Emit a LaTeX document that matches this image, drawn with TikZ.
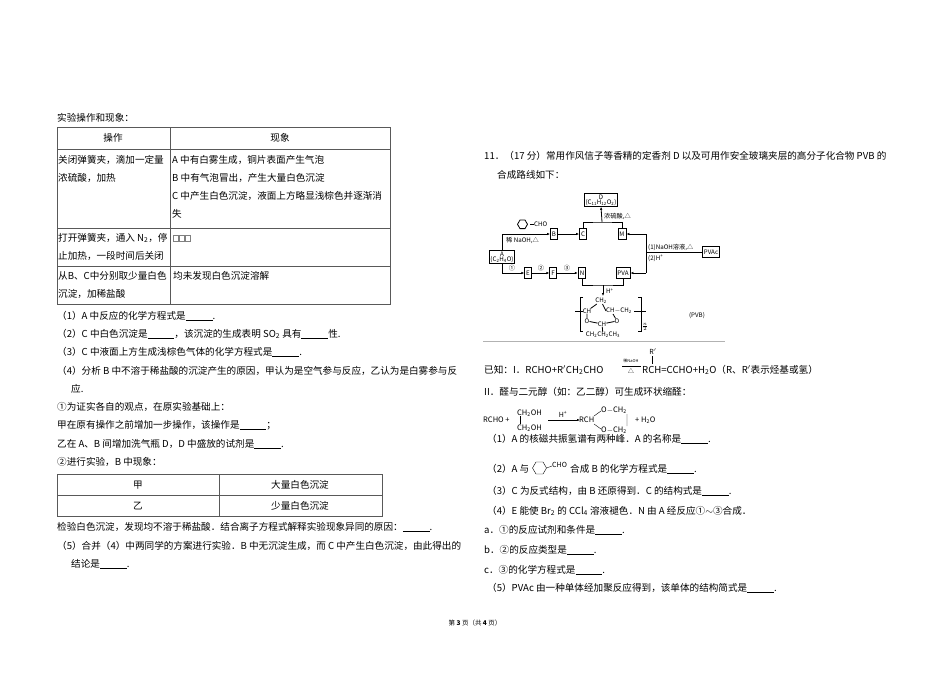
\documentclass[tikz,border=0pt]{standalone}
\usepackage{fontspec}
\setmainfont{Noto Sans CJK SC}
\usetikzlibrary{arrows.meta}
\newcommand{\blank}{\underline{\hspace{2.8em}}}
\begin{document}
\begin{tikzpicture}[x=1pt,y=-1pt,
  t/.style={anchor=west,inner sep=0pt,font=\fontsize{9.6}{11}\selectfont},
  tc/.style={inner sep=0pt,font=\fontsize{9.6}{11}\selectfont},
  d/.style={inner sep=0pt,font=\fontsize{6.2}{7}\selectfont},
  bx/.style={draw,thick,inner sep=1.5pt,font=\fontsize{6.2}{7}\selectfont,minimum height=11pt},
  ln/.style={line width=0.5pt,gray!70!black},
  ar/.style={thick,-{Latex[length=3pt,width=2.5pt]}},
  pl/.style={thick}]
\useasboundingbox (0,0) rectangle (950,672);
\fill[white] (0,0) rectangle (950,672);
% ---------- left ----------
\node[t] (h0) at (57,118) {实验操作和现象：};
\draw[ln] (57,127) rectangle (390,304);
\draw[ln] (57,149) -- (390,149) (57,228) -- (390,228) (57,266) -- (390,266) (170,127) -- (170,304);
\node[tc] (c1) at (113,138) {操作};
\node[tc] (c2) at (280,138) {现象};
\node[t] (r1a) at (58,160) {关闭弹簧夹，滴加一定量};
\node[t] (r1b) at (58,178) {浓硫酸，加热};
\node[t] (r1c) at (172,160) {A 中有白雾生成，铜片表面产生气泡};
\node[t] (r1d) at (172,178) {B 中有气泡冒出，产生大量白色沉淀};
\node[t] (r1e) at (172,196) {C 中产生白色沉淀，液面上方略显浅棕色并逐渐消};
\node[t] (r1f) at (172,214) {失};
\node[t] (r2a) at (58,238) {打开弹簧夹，通入 N\textsubscript{2}，停};
\node[t] (r2b) at (58,256) {止加热，一段时间后关闭};
\foreach \i in {0,1,2} \draw[gray,line width=0.4pt] (173+\i*6,235) rectangle ++(5,6);
\node[t] (r3a) at (58,276) {从B、C中分别取少量白色};
\node[t] (r3b) at (58,294) {沉淀，加稀盐酸};
\node[t] (r3c) at (173,276) {均未发现白色沉淀溶解};
\node[t] (q1) at (57,316) {（1）A 中反应的化学方程式是\blank.};
\node[t] (q2) at (57,334) {（2）C 中白色沉淀是\blank，该沉淀的生成表明 SO\textsubscript{2} 具有\blank 性.};
\node[t] (q3) at (57,352) {（3）C 中液面上方生成浅棕色气体的化学方程式是\blank.};
\node[t] (q4) at (57,371) {（4）分析 B 中不溶于稀盐酸的沉淀产生的原因，甲认为是空气参与反应，乙认为是白雾参与反};
\node[t] (q4b) at (71,389) {应.};
\node[t] (q5) at (57,407) {①为证实各自的观点，在原实验基础上：};
\node[t] (q6) at (57,425) {甲在原有操作之前增加一步操作，该操作是\blank；};
\node[t] (q7) at (57,444) {乙在 A、B 间增加洗气瓶 D，D 中盛放的试剂是\blank.};
\node[t] (q8) at (57,462) {②进行实验，B 中现象：};
\draw[ln] (57,474) rectangle (382,516);
\draw[ln] (57,495) -- (382,495) (219,474) -- (219,516);
\node[tc] (j1) at (138,485) {甲};
\node[tc] (j2) at (300,485) {大量白色沉淀};
\node[tc] (y1) at (138,506) {乙};
\node[tc] (y2) at (300,506) {少量白色沉淀};
\node[t] (q9) at (57,527) {检验白色沉淀，发现均不溶于稀盐酸．结合离子方程式解释实验现象异同的原因：\blank.};
\node[t] (q10) at (57,546) {（5）合并（4）中两同学的方案进行实验．B 中无沉淀生成，而 C 中产生白色沉淀，由此得出的};
\node[t] (q10b) at (71,564) {结论是\blank.};
% ---------- right ----------
\node[t] (p1) at (484,156) {11．（17 分）常用作风信子等香精的定香剂 D 以及可用作安全玻璃夹层的高分子化合物 PVB 的};
\node[t] (p2) at (497,175) {合成路线如下：};
% diagram
\node[bx,align=center,inner sep=1pt] (D) at (601,200) {D\\[-2pt](C\textsubscript{11}H\textsubscript{12}O\textsubscript{2})};
\node[bx,align=center,inner sep=1pt] (A) at (502,257) {A\\[-2pt](C\textsubscript{2}H\textsubscript{4}O)};
\node[bx] (B) at (554,234) {B};
\node[bx] (C) at (583,234) {C};
\node[bx] (M) at (622,234) {M};
\node[bx] (E) at (528,273) {E};
\node[bx] (F) at (553,273) {F};
\node[bx] (N) at (582,273) {N};
\node[bx] (PVA) at (623,273) {PVA};
\node[bx] (PVAc) at (711,252) {PVAc};
\coordinate (j) at (602,222);
\draw[pl] (C.north) |- (j) -| (M.north);
\draw[ar] (j) -- (D.south);
\node[d,anchor=west] (l1) at (604,216) {浓硫酸,△};
\draw[ar] (A.north) |- (B.west);
\node[d,anchor=west] (l2) at (506,240) {稀 NaOH,△};
\draw[thick] (520,220) -- ++(5,0) -- ++(2.5,4.3) -- ++(-2.5,4.3) -- ++(-5,0) -- ++(-2.5,-4.3) -- cycle;
\draw[thick] (530,224.3) -- (534,224.3);
\node[d,anchor=west] (cho) at (534,224.3) {CHO};
\draw[ar] (B) -- (C);
\draw[ar] (A.south) |- (E.west);
\node[d] (n1) at (512,268) {①};
\draw[ar] (E) -- (F);
\node[d] (n2) at (541,268) {②};
\draw[ar] (F) -- (N);
\node[d] (n3) at (567,268) {③};
\coordinate (v1) at (646,234);
\coordinate (v2) at (646,273);
\draw[pl] (v1) -- (v2);
\draw[ar] (v1) -- (M.east);
\draw[ar] (v2) -- (PVA.east);
\draw[pl] (646,252) -- (PVAc.west);
\node[d,anchor=west] (l3) at (648,247) {(1)NaOH溶液,△};
\node[d,anchor=west] (l4) at (648,258) {(2)H\textsuperscript{+}};
\coordinate (k) at (603,285);
\draw[pl] (N.south) |- (k) -| (PVA.south);
\coordinate (pv) at (603,296);
\draw[ar] (k) -- (pv);
\node[d,anchor=west] (l5) at (606,291) {H\textsuperscript{+}};
% PVB structure
\node[d] (s1) at (601,301) {CH\textsubscript{2}};
\node[d] (s2) at (587,311) {CH};
\node[d,anchor=west] (s3) at (606,311) {CH$-$CH\textsubscript{2}};
\node[d] (s4) at (587,321) {O};
\node[d] (s5) at (602,324) {CH};
\node[d] (s6) at (617,321) {O};
\node[d] (s7) at (603,335) {CH\textsubscript{2}CH\textsubscript{2}CH\textsubscript{3}};
\draw[pl] (583,297) -- (580,297) -- (580,331) -- (583,331);
\draw[pl] (638,297) -- (641,297) -- (641,331) -- (638,331);
\draw[pl] (575,311) -- (583,311) (634,311) -- (646,311);
\draw[pl] (s1) -- (s2) (s1) -- (s3.west) (s2) -- (s4) (s4) -- (s5) (s5) -- (s6) (s6) -- (613,314) (s5) -- (s7);
\node[d] (nn) at (645,327) {$\frac{n}{2}$};
\node[d] (pvb) at (697,316) {(PVB)};
\draw[gray!60,line width=0.6pt] (483,341) -- (725,341);
% known
\node[t] (k1) at (484,370) {已知：I．RCHO+R$'$CH\textsubscript{2}CHO};
\coordinate (ka) at (622,366);
\coordinate (kb) at (641,366);
\draw[thick] (ka) -- (kb);
\node[d,font=\fontsize{4}{4}\selectfont] (kt) at (631,361) {稀NaOH};
\node[d] (kd) at (631,371) {△};
\node[t] (k2) at (642,370) {RCH=CCHO+H\textsubscript{2}O（R、R$'$表示烃基或氢）};
\node[d,font=\fontsize{7}{7}\selectfont] (rp) at (653,352) {R$'$};
\draw (652,356) -- (652,364);
\node[t] (k3) at (484,392) {II．醛与二元醇（如：乙二醇）可生成环状缩醛：};
\node[t,font=\fontsize{7.5}{8}\selectfont] (e1) at (483,420) {RCHO +};
\node[t,font=\fontsize{7.5}{8}\selectfont] (e2) at (517,413) {CH\textsubscript{2}OH};
\node[t,font=\fontsize{7.5}{8}\selectfont] (e3) at (517,428) {CH\textsubscript{2}OH};
\draw (520,416) -- (520,424);
\draw[-{Latex[length=3pt]}] (548,420) -- (580,420);
\node[d,font=\fontsize{7}{7}\selectfont] (hp) at (563,414) {H\textsuperscript{+}};
\node[t,font=\fontsize{7.5}{8}\selectfont] (e4) at (579,420) {RCH};
\node[t,font=\fontsize{7.5}{8}\selectfont] (e5) at (601,410) {O$-$CH\textsubscript{2}};
\node[t,font=\fontsize{7.5}{8}\selectfont] (e6) at (601,430) {O$-$CH\textsubscript{2}};
\draw (594,416) -- (601,411) (594,424) -- (601,429) (627,414) -- (627,426);
\node[t,font=\fontsize{7.5}{8}\selectfont] (e7) at (635,420) {+ H\textsubscript{2}O};
\node[t] (a1) at (487,439) {（1）A 的核磁共振氢谱有两种峰．A 的名称是\blank.};
\node[t] (a2) at (487,469) {（2）A 与};
\draw (536,462) -- ++(7,0) -- ++(3.5,6) -- ++(-3.5,6) -- ++(-7,0) -- ++(-3.5,-6) -- cycle;
\draw (546.5,468) -- (552,466);
\node[d,font=\fontsize{7}{7}\selectfont,anchor=west] (cho2) at (552,465) {CHO};
\node[t] (a2b) at (570,469) {合成 B 的化学方程式是\blank.};
\node[t] (a3) at (487,491) {（3）C 为反式结构，由 B 还原得到．C 的结构式是\blank.};
\node[t] (a4) at (487,511) {（4）E 能使 Br\textsubscript{2} 的 CCl\textsubscript{4} 溶液褪色．N 由 A 经反应①$\sim$③合成．};
\node[t] (a5) at (484,530) {a．①的反应试剂和条件是\blank.};
\node[t] (a6) at (484,550) {b．②的反应类型是\blank.};
\node[t] (a7) at (484,570) {c．③的化学方程式是\blank.};
\node[t] (a8) at (487,588) {（5）PVAc 由一种单体经加聚反应得到，该单体的结构简式是\blank.};
\node[tc,font=\fontsize{6.5}{7}\selectfont] (foot) at (475,623) {第 \textbf{3} 页（共 \textbf{4} 页）};
\end{tikzpicture}
\end{document}
